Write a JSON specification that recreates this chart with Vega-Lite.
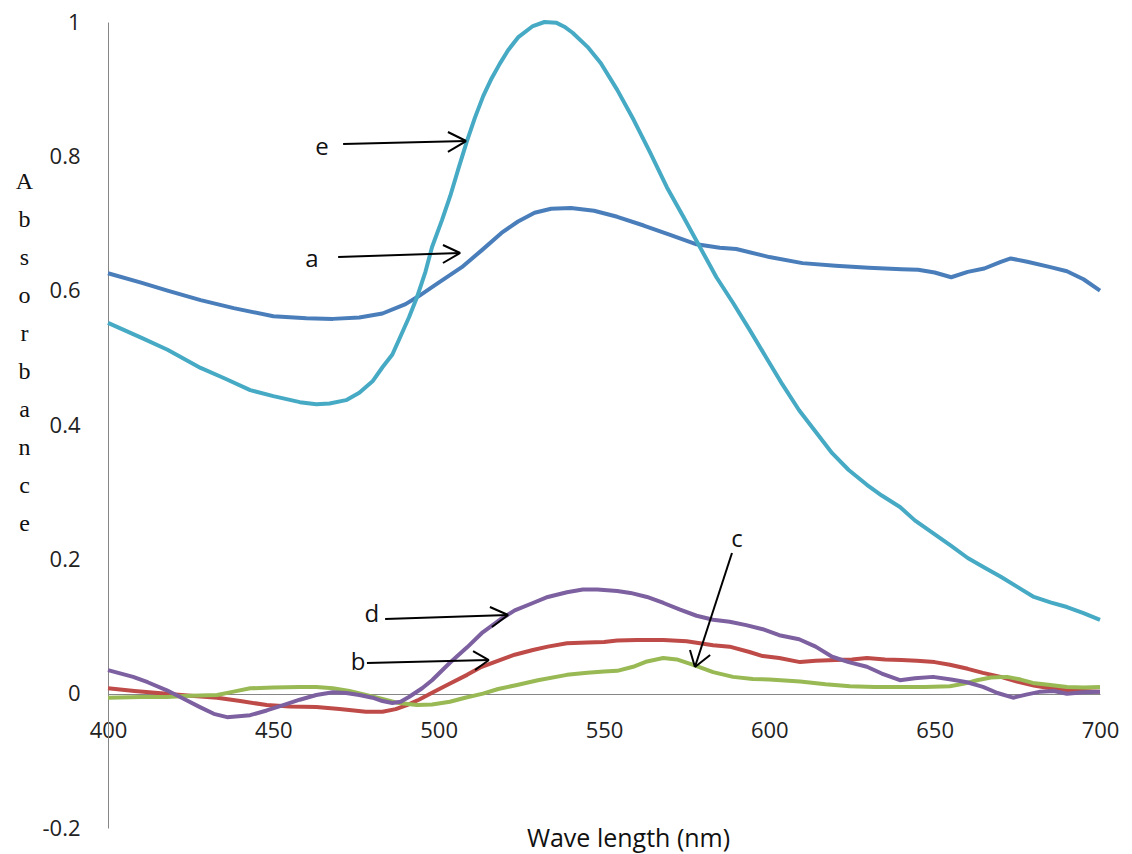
{
  "$schema": "https://vega.github.io/schema/vega-lite/v6.json",
  "width": 992,
  "height": 806,
  "autosize": {"type": "none"},
  "padding": {"left": 108, "top": 22, "right": 32, "bottom": 26},
  "background": "white",
  "config": {
    "view": {"stroke": null},
    "axis": {"grid": false, "ticks": false, "tickSize": 0, "domainColor": "#868686", "domainWidth": 1, "labelColor": "#222222", "labelFont": "Open Sans", "labelFontSize": 22, "labelFlush": false, "labelOverlap": false, "titleColor": "#111111"}
  },
  "datasets": {
    "curves": [
      {"s":"a","wl":400,"abs":0.626},{"s":"a","wl":410,"abs":0.612},{"s":"a","wl":418,"abs":0.6},{"s":"a","wl":428,"abs":0.586},{"s":"a","wl":438,"abs":0.574},{"s":"a","wl":450,"abs":0.562},{"s":"a","wl":460,"abs":0.559},{"s":"a","wl":468,"abs":0.558},{"s":"a","wl":476,"abs":0.56},{"s":"a","wl":483,"abs":0.566},{"s":"a","wl":490,"abs":0.58},{"s":"a","wl":494,"abs":0.592},{"s":"a","wl":500,"abs":0.612},{"s":"a","wl":507,"abs":0.635},{"s":"a","wl":513,"abs":0.66},{"s":"a","wl":519,"abs":0.686},{"s":"a","wl":524,"abs":0.703},{"s":"a","wl":529,"abs":0.716},{"s":"a","wl":534,"abs":0.722},{"s":"a","wl":540,"abs":0.723},{"s":"a","wl":547,"abs":0.719},{"s":"a","wl":554,"abs":0.71},{"s":"a","wl":562,"abs":0.697},{"s":"a","wl":570,"abs":0.683},{"s":"a","wl":578,"abs":0.669},{"s":"a","wl":585,"abs":0.664},{"s":"a","wl":590,"abs":0.662},{"s":"a","wl":600,"abs":0.65},{"s":"a","wl":610,"abs":0.641},{"s":"a","wl":620,"abs":0.637},{"s":"a","wl":630,"abs":0.634},{"s":"a","wl":640,"abs":0.632},{"s":"a","wl":645,"abs":0.631},{"s":"a","wl":650,"abs":0.627},{"s":"a","wl":655,"abs":0.62},{"s":"a","wl":660,"abs":0.628},{"s":"a","wl":665,"abs":0.633},{"s":"a","wl":670,"abs":0.643},{"s":"a","wl":673,"abs":0.648},{"s":"a","wl":678,"abs":0.643},{"s":"a","wl":685,"abs":0.635},{"s":"a","wl":690,"abs":0.629},{"s":"a","wl":695,"abs":0.617},{"s":"a","wl":700,"abs":0.6},
      {"s":"b","wl":400,"abs":0.008},{"s":"b","wl":408,"abs":0.004},{"s":"b","wl":417.8,"abs":0.0},{"s":"b","wl":425,"abs":-0.003},{"s":"b","wl":433,"abs":-0.006},{"s":"b","wl":440,"abs":-0.011},{"s":"b","wl":448,"abs":-0.017},{"s":"b","wl":455,"abs":-0.019},{"s":"b","wl":463,"abs":-0.02},{"s":"b","wl":470,"abs":-0.023},{"s":"b","wl":478,"abs":-0.027},{"s":"b","wl":483,"abs":-0.027},{"s":"b","wl":487,"abs":-0.023},{"s":"b","wl":490.4,"abs":-0.017},{"s":"b","wl":494,"abs":-0.009},{"s":"b","wl":498.3,"abs":0.002},{"s":"b","wl":503,"abs":0.014},{"s":"b","wl":508.6,"abs":0.028},{"s":"b","wl":513,"abs":0.04},{"s":"b","wl":518.5,"abs":0.05},{"s":"b","wl":523,"abs":0.058},{"s":"b","wl":528.5,"abs":0.065},{"s":"b","wl":533,"abs":0.07},{"s":"b","wl":538.8,"abs":0.075},{"s":"b","wl":545,"abs":0.076},{"s":"b","wl":550,"abs":0.077},{"s":"b","wl":554,"abs":0.079},{"s":"b","wl":560,"abs":0.08},{"s":"b","wl":568,"abs":0.08},{"s":"b","wl":575,"abs":0.078},{"s":"b","wl":583,"abs":0.072},{"s":"b","wl":588,"abs":0.07},{"s":"b","wl":594,"abs":0.062},{"s":"b","wl":598,"abs":0.056},{"s":"b","wl":603,"abs":0.053},{"s":"b","wl":609.3,"abs":0.047},{"s":"b","wl":614,"abs":0.049},{"s":"b","wl":620,"abs":0.05},{"s":"b","wl":625,"abs":0.051},{"s":"b","wl":629.5,"abs":0.053},{"s":"b","wl":635,"abs":0.051},{"s":"b","wl":640,"abs":0.05},{"s":"b","wl":644.6,"abs":0.049},{"s":"b","wl":650,"abs":0.047},{"s":"b","wl":654.6,"abs":0.043},{"s":"b","wl":660,"abs":0.037},{"s":"b","wl":664.6,"abs":0.031},{"s":"b","wl":670,"abs":0.025},{"s":"b","wl":674.9,"abs":0.018},{"s":"b","wl":680,"abs":0.012},{"s":"b","wl":684.9,"abs":0.008},{"s":"b","wl":690,"abs":0.005},{"s":"b","wl":695,"abs":0.004},{"s":"b","wl":700,"abs":0.003},
      {"s":"c","wl":400,"abs":-0.006},{"s":"c","wl":410,"abs":-0.005},{"s":"c","wl":417.8,"abs":-0.005},{"s":"c","wl":425,"abs":-0.003},{"s":"c","wl":433,"abs":-0.002},{"s":"c","wl":438,"abs":0.003},{"s":"c","wl":443,"abs":0.008},{"s":"c","wl":450,"abs":0.009},{"s":"c","wl":458,"abs":0.01},{"s":"c","wl":463,"abs":0.01},{"s":"c","wl":468,"abs":0.008},{"s":"c","wl":473,"abs":0.004},{"s":"c","wl":478,"abs":-0.002},{"s":"c","wl":483,"abs":-0.008},{"s":"c","wl":488,"abs":-0.014},{"s":"c","wl":493.5,"abs":-0.017},{"s":"c","wl":498,"abs":-0.016},{"s":"c","wl":503.4,"abs":-0.012},{"s":"c","wl":508,"abs":-0.006},{"s":"c","wl":513.4,"abs":0.0},{"s":"c","wl":518,"abs":0.007},{"s":"c","wl":523.7,"abs":0.013},{"s":"c","wl":530,"abs":0.02},{"s":"c","wl":538.8,"abs":0.028},{"s":"c","wl":545,"abs":0.031},{"s":"c","wl":550,"abs":0.033},{"s":"c","wl":554,"abs":0.034},{"s":"c","wl":558.8,"abs":0.04},{"s":"c","wl":563,"abs":0.048},{"s":"c","wl":567.9,"abs":0.053},{"s":"c","wl":572,"abs":0.051},{"s":"c","wl":577,"abs":0.043},{"s":"c","wl":583,"abs":0.032},{"s":"c","wl":589,"abs":0.025},{"s":"c","wl":595,"abs":0.022},{"s":"c","wl":600,"abs":0.021},{"s":"c","wl":609.3,"abs":0.018},{"s":"c","wl":617,"abs":0.014},{"s":"c","wl":624.4,"abs":0.011},{"s":"c","wl":632,"abs":0.01},{"s":"c","wl":639.5,"abs":0.01},{"s":"c","wl":647,"abs":0.01},{"s":"c","wl":654.6,"abs":0.011},{"s":"c","wl":659,"abs":0.015},{"s":"c","wl":662.8,"abs":0.02},{"s":"c","wl":667,"abs":0.024},{"s":"c","wl":671.9,"abs":0.025},{"s":"c","wl":676,"abs":0.021},{"s":"c","wl":679.7,"abs":0.016},{"s":"c","wl":685,"abs":0.013},{"s":"c","wl":690,"abs":0.01},{"s":"c","wl":695,"abs":0.009},{"s":"c","wl":700,"abs":0.01},
      {"s":"d","wl":400,"abs":0.035},{"s":"d","wl":407.6,"abs":0.025},{"s":"d","wl":412,"abs":0.017},{"s":"d","wl":417.8,"abs":0.005},{"s":"d","wl":423,"abs":-0.008},{"s":"d","wl":427.8,"abs":-0.02},{"s":"d","wl":432,"abs":-0.03},{"s":"d","wl":436,"abs":-0.035},{"s":"d","wl":443,"abs":-0.032},{"s":"d","wl":448,"abs":-0.025},{"s":"d","wl":453,"abs":-0.017},{"s":"d","wl":458,"abs":-0.009},{"s":"d","wl":463,"abs":-0.002},{"s":"d","wl":468,"abs":0.002},{"s":"d","wl":472,"abs":0.001},{"s":"d","wl":476,"abs":-0.002},{"s":"d","wl":480,"abs":-0.006},{"s":"d","wl":483,"abs":-0.011},{"s":"d","wl":486,"abs":-0.014},{"s":"d","wl":488.5,"abs":-0.012},{"s":"d","wl":491,"abs":-0.005},{"s":"d","wl":495,"abs":0.008},{"s":"d","wl":498,"abs":0.02},{"s":"d","wl":503.4,"abs":0.046},{"s":"d","wl":508.6,"abs":0.069},{"s":"d","wl":513,"abs":0.09},{"s":"d","wl":518.5,"abs":0.11},{"s":"d","wl":523,"abs":0.124},{"s":"d","wl":528.5,"abs":0.135},{"s":"d","wl":533,"abs":0.144},{"s":"d","wl":538.8,"abs":0.151},{"s":"d","wl":543.6,"abs":0.155},{"s":"d","wl":548,"abs":0.155},{"s":"d","wl":554,"abs":0.153},{"s":"d","wl":558,"abs":0.15},{"s":"d","wl":563,"abs":0.144},{"s":"d","wl":568,"abs":0.135},{"s":"d","wl":573,"abs":0.125},{"s":"d","wl":578,"abs":0.116},{"s":"d","wl":583,"abs":0.11},{"s":"d","wl":588,"abs":0.107},{"s":"d","wl":593,"abs":0.102},{"s":"d","wl":598,"abs":0.096},{"s":"d","wl":603,"abs":0.087},{"s":"d","wl":609,"abs":0.081},{"s":"d","wl":614,"abs":0.07},{"s":"d","wl":619,"abs":0.055},{"s":"d","wl":624,"abs":0.047},{"s":"d","wl":629.5,"abs":0.04},{"s":"d","wl":634,"abs":0.03},{"s":"d","wl":639.5,"abs":0.02},{"s":"d","wl":644,"abs":0.023},{"s":"d","wl":649.5,"abs":0.025},{"s":"d","wl":655,"abs":0.021},{"s":"d","wl":659.8,"abs":0.017},{"s":"d","wl":664.6,"abs":0.01},{"s":"d","wl":669,"abs":0.001},{"s":"d","wl":673.7,"abs":-0.006},{"s":"d","wl":678,"abs":-0.001},{"s":"d","wl":682,"abs":0.003},{"s":"d","wl":686,"abs":0.004},{"s":"d","wl":690,"abs":0.0},{"s":"d","wl":695,"abs":0.002},{"s":"d","wl":700,"abs":0.003},
      {"s":"e","wl":400,"abs":0.552},{"s":"e","wl":410,"abs":0.53},{"s":"e","wl":418,"abs":0.512},{"s":"e","wl":428,"abs":0.485},{"s":"e","wl":435,"abs":0.47},{"s":"e","wl":443,"abs":0.452},{"s":"e","wl":450,"abs":0.443},{"s":"e","wl":458,"abs":0.434},{"s":"e","wl":463,"abs":0.431},{"s":"e","wl":467,"abs":0.432},{"s":"e","wl":472,"abs":0.437},{"s":"e","wl":476,"abs":0.448},{"s":"e","wl":480,"abs":0.465},{"s":"e","wl":483,"abs":0.486},{"s":"e","wl":486,"abs":0.505},{"s":"e","wl":488,"abs":0.527},{"s":"e","wl":491,"abs":0.56},{"s":"e","wl":493.5,"abs":0.591},{"s":"e","wl":496,"abs":0.628},{"s":"e","wl":498,"abs":0.665},{"s":"e","wl":501,"abs":0.705},{"s":"e","wl":503.5,"abs":0.741},{"s":"e","wl":506,"abs":0.782},{"s":"e","wl":508.5,"abs":0.822},{"s":"e","wl":511,"abs":0.858},{"s":"e","wl":513.5,"abs":0.89},{"s":"e","wl":516,"abs":0.916},{"s":"e","wl":518.5,"abs":0.938},{"s":"e","wl":521,"abs":0.958},{"s":"e","wl":524,"abs":0.977},{"s":"e","wl":528.5,"abs":0.994},{"s":"e","wl":532,"abs":1.0},{"s":"e","wl":535.5,"abs":0.999},{"s":"e","wl":538,"abs":0.993},{"s":"e","wl":540.5,"abs":0.984},{"s":"e","wl":545,"abs":0.963},{"s":"e","wl":549,"abs":0.939},{"s":"e","wl":554,"abs":0.899},{"s":"e","wl":559,"abs":0.854},{"s":"e","wl":564,"abs":0.805},{"s":"e","wl":569,"abs":0.754},{"s":"e","wl":574,"abs":0.71},{"s":"e","wl":579,"abs":0.665},{"s":"e","wl":584,"abs":0.62},{"s":"e","wl":589,"abs":0.582},{"s":"e","wl":594,"abs":0.542},{"s":"e","wl":599,"abs":0.501},{"s":"e","wl":604,"abs":0.46},{"s":"e","wl":609,"abs":0.422},{"s":"e","wl":614,"abs":0.39},{"s":"e","wl":619,"abs":0.358},{"s":"e","wl":624,"abs":0.333},{"s":"e","wl":629.5,"abs":0.311},{"s":"e","wl":634,"abs":0.295},{"s":"e","wl":639.5,"abs":0.278},{"s":"e","wl":644,"abs":0.258},{"s":"e","wl":649.5,"abs":0.239},{"s":"e","wl":655,"abs":0.22},{"s":"e","wl":660,"abs":0.202},{"s":"e","wl":665,"abs":0.188},{"s":"e","wl":670,"abs":0.174},{"s":"e","wl":675,"abs":0.159},{"s":"e","wl":680,"abs":0.144},{"s":"e","wl":685,"abs":0.136},{"s":"e","wl":690,"abs":0.129},{"s":"e","wl":695,"abs":0.12},{"s":"e","wl":700,"abs":0.11}
    ],
    "arrows": [
      {"wl":471.1,"abs":0.8184,"wl2":508.3,"abs2":0.8228},
      {"wl":502.8,"abs":0.8362,"wl2":508.3,"abs2":0.8228},
      {"wl":502.8,"abs":0.8065,"wl2":508.3,"abs2":0.8228},
      {"wl":469.6,"abs":0.6501,"wl2":506.5,"abs2":0.6561},
      {"wl":501.3,"abs":0.668,"wl2":506.5,"abs2":0.6561},
      {"wl":501.3,"abs":0.6412,"wl2":506.5,"abs2":0.6561},
      {"wl":483.8,"abs":0.1112,"wl2":521.0,"abs2":0.1171},
      {"wl":515.5,"abs":0.129,"wl2":521.0,"abs2":0.1171},
      {"wl":516.1,"abs":0.0993,"wl2":521.0,"abs2":0.1171},
      {"wl":478.3,"abs":0.0457,"wl2":515.2,"abs2":0.0501},
      {"wl":510.4,"abs":0.0635,"wl2":515.2,"abs2":0.0501},
      {"wl":511.0,"abs":0.0352,"wl2":515.2,"abs2":0.0501},
      {"wl":588.7,"abs":0.2094,"wl2":577.5,"abs2":0.0397},
      {"wl":576.0,"abs":0.065,"wl2":577.5,"abs2":0.0397},
      {"wl":582.1,"abs":0.0576,"wl2":577.5,"abs2":0.0397}
    ],
    "labels": [
      {"t":"e","wl":464.7,"abs":0.8124},
      {"t":"a","wl":461.7,"abs":0.6457},
      {"t":"d","wl":479.8,"abs":0.1171},
      {"t":"b","wl":475.6,"abs":0.0457},
      {"t":"c","wl":590.2,"abs":0.2288}
    ]
  },
  "encoding": {
    "x": {
      "field": "wl", "type": "quantitative",
      "scale": {"domain": [400, 700], "nice": false, "zero": false},
      "axis": {
        "values": [400, 450, 500, 550, 600, 650, 700],
        "offset": -134,
        "labelPadding": 26,
        "labelBaseline": "top",
        "title": "Wave length (nm)",
        "titleFont": "Open Sans",
        "titleFontSize": 25,
        "titleFontWeight": "normal",
        "titleX": 520,
        "titleY": 144,
        "titleBaseline": "middle",
        "titleAnchor": "start",
        "titleAlign": "center"
      }
    },
    "y": {
      "field": "abs", "type": "quantitative",
      "scale": {"domain": [-0.2, 1], "nice": false, "zero": false},
      "axis": {
        "values": [-0.2, 0, 0.2, 0.4, 0.6, 0.8, 1],
        "labelExpr": "'' + datum.value",
        "labelPadding": 28,
        "title": ["A", "b", "s", "o", "r", "b", "a", "n", "c", "e"],
        "titleFont": "Liberation Serif",
        "titleFontSize": 24,
        "titleFontWeight": "normal",
        "titleAngle": 0,
        "titleAlign": "center",
        "titleBaseline": "alphabetic",
        "titleLineHeight": 38,
        "titleX": -84,
        "titleY": 166
      }
    }
  },
  "layer": [
    {
      "data": {"name": "curves"},
      "mark": {"type": "line", "strokeWidth": 4, "strokeJoin": "round"},
      "encoding": {
        "color": {
          "field": "s", "type": "nominal", "legend": null,
          "scale": {"domain": ["a", "b", "c", "d", "e"], "range": ["#4a7ebb", "#be4b48", "#98b954", "#7d60a0", "#46aac5"]}
        }
      }
    },
    {
      "data": {"name": "arrows"},
      "mark": {"type": "rule", "color": "black", "strokeWidth": 2},
      "encoding": {
        "x2": {"field": "wl2"},
        "y2": {"field": "abs2"}
      }
    },
    {
      "data": {"name": "labels"},
      "mark": {"type": "text", "font": "Open Sans", "fontSize": 24, "color": "#111111", "align": "center", "baseline": "middle"},
      "encoding": {
        "text": {"field": "t"}
      }
    }
  ]
}
